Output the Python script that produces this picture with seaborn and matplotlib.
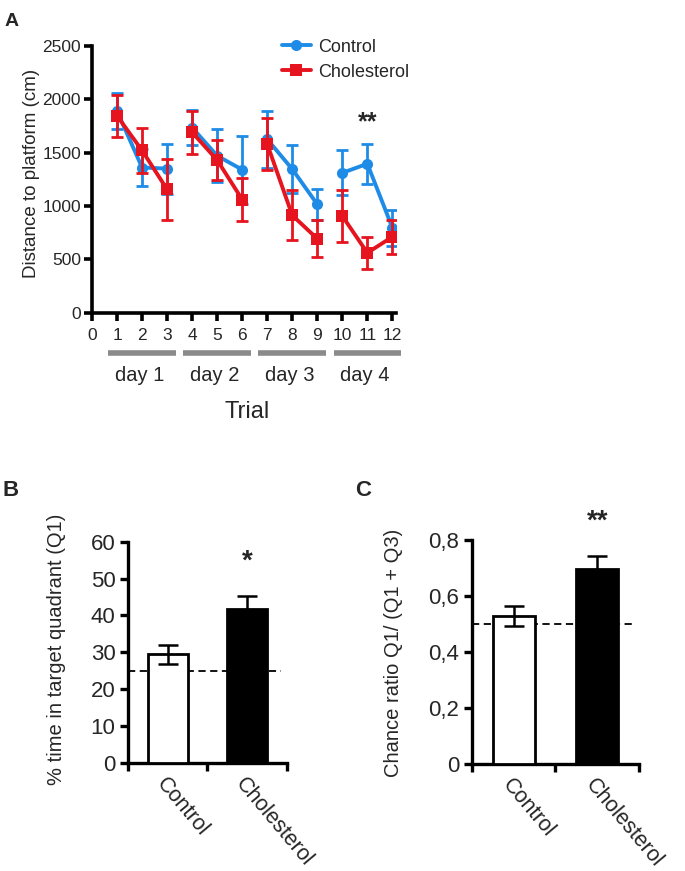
import matplotlib
matplotlib.use("Agg")
import matplotlib.pyplot as plt
from matplotlib.lines import Line2D
from matplotlib.ticker import FixedLocator, FuncFormatter
import pandas as pd
import seaborn as sns

# ---- data ----
trials = [1, 2, 3, 4, 5, 6, 7, 8, 9, 10, 11, 12]
trial_day = [1, 1, 1, 2, 2, 2, 3, 3, 3, 4, 4, 4]
control_dist = [1890, 1360, 1350, 1735, 1470, 1340, 1625, 1345, 1015, 1310, 1395, 795]
control_sem = [165, 175, 235, 165, 250, 320, 265, 228, 148, 210, 185, 170]
chol_dist = [1845, 1520, 1155, 1690, 1430, 1060, 1580, 912, 692, 905, 560, 710]
chol_sem = [195, 215, 285, 200, 188, 203, 247, 235, 172, 245, 150, 162]
day_labels = ["day 1", "day 2", "day 3", "day 4"]
day_first_trial = [1, 4, 7, 10]
day_last_trial = [3, 6, 9, 12]

groups = ["Control", "Cholesterol"]
pct_time = [29.4, 41.6]
pct_time_sem = [2.6, 3.6]
pct_chance = 25
ratio = [0.529, 0.695]
ratio_sem = [0.036, 0.047]
ratio_chance = 0.5

BLUE = "#1E8CE6"
RED = "#E6141E"
FONT = ["Liberation Sans", "DejaVu Sans"]

sns.set_style("ticks")
plt.rcParams["font.family"] = FONT

fig = plt.figure(figsize=(6.85, 8.71), dpi=100)

# ---------------- panel A ----------------
ax = fig.add_axes([0.1343, 0.6412, 0.444, 0.306])
df = pd.DataFrame({
    "trial": trials * 2,
    "day": trial_day * 2,
    "dist": control_dist + chol_dist,
    "group": ["Control"] * 12 + ["Cholesterol"] * 12,
})
sns.lineplot(data=df[df.group == "Control"], x="trial", y="dist", units="day",
             estimator=None, color=BLUE, marker="o", linewidth=2.8, markersize=8,
             markeredgewidth=0, legend=False, ax=ax, zorder=3)
ax.errorbar(trials, control_dist, yerr=control_sem, fmt="none", ecolor=BLUE,
            elinewidth=2, capsize=4.3, capthick=2, zorder=2)
ax.errorbar(trials, chol_dist, yerr=chol_sem, fmt="none", ecolor=RED,
            elinewidth=2, capsize=4.3, capthick=2, zorder=4)
sns.lineplot(data=df[df.group == "Cholesterol"], x="trial", y="dist", units="day",
             estimator=None, color=RED, marker="s", linewidth=2.8, markersize=8,
             markeredgewidth=0, legend=False, ax=ax, zorder=5)

ax.set_xlim(0, 12.15)
ax.set_ylim(0, 2500)
ax.set_xticks(range(0, 13))
ax.set_yticks(range(0, 2501, 500))
for s in ["top", "right"]:
    ax.spines[s].set_visible(False)
for s in ["left", "bottom"]:
    ax.spines[s].set_linewidth(2.6)
    ax.spines[s].set_color("black")
ax.tick_params(width=2.6, length=6, color="black", labelsize=12.5)
ax.tick_params(axis="x", pad=5)
ax.tick_params(axis="y", pad=2)
ax.set_xlabel("")
ax.set_ylabel("Distance to platform (cm)", fontsize=13.5)
ax.yaxis.set_label_coords(-0.172, 0.523)

for first, last, lab in zip(day_first_trial, day_last_trial, day_labels):
    ax.plot([first - 0.35, last + 0.35], [-0.152, -0.152], color="#8a8a8a", lw=4,
            transform=ax.get_xaxis_transform(), clip_on=False, solid_capstyle="butt")
    ax.text((first + last) / 2 - 0.1, -0.235, lab, transform=ax.get_xaxis_transform(),
            ha="center", va="center", fontsize=14.5)
ax.text(0.51, -0.372, "Trial", transform=ax.transAxes, ha="center", va="center",
        fontsize=17)
ax.text(11, 1780, "**", ha="center", va="center", fontsize=18, fontweight="bold")

handles = [Line2D([], [], color=BLUE, lw=2.8, marker="o", ms=8, mew=0),
           Line2D([], [], color=RED, lw=2.8, marker="s", ms=8, mew=0)]
ax.legend(handles, groups, loc="upper left", bbox_to_anchor=(0.6, 1.055),
          frameon=False, handlelength=1.6, handletextpad=0.4, labelspacing=0.45,
          borderaxespad=0, prop={"size": 13})

fig.text(0.006, 0.985, "A", fontsize=14, fontweight="bold", va="top", ha="left")


# ---------------- panels B and C ----------------
def bar_panel(rect, values, sems, chance, ylim, yticks, ylabel, label_coords, star, star_y, fmt):
    axb = fig.add_axes(rect)
    bdf = pd.DataFrame({"group": groups, "value": values})
    sns.barplot(data=bdf, x="group", y="value", hue="group",
                palette={"Control": "white", "Cholesterol": "black"},
                edgecolor="black", linewidth=2, width=0.5, errorbar=None,
                legend=False, ax=axb, zorder=3)
    axb.errorbar([0, 1], values, yerr=sems, fmt="none", ecolor="black",
                 elinewidth=1.8, capsize=7, capthick=1.8, zorder=5)
    axb.axhline(chance, xmin=0, xmax=0.96, color="black", lw=1.3,
                ls=(0, (4, 2.5)), zorder=1)
    axb.set_xlim(-0.5, 1.5)
    axb.set_ylim(*ylim)
    axb.set_yticks(yticks)
    axb.yaxis.set_major_formatter(FuncFormatter(fmt))
    axb.xaxis.set_minor_locator(FixedLocator([-0.5, 0.5, 1.5]))
    axb.tick_params(axis="x", which="major", length=0, pad=8)
    axb.tick_params(axis="x", which="minor", length=6, width=2.4, color="black")
    axb.tick_params(axis="y", length=6, width=2.4, color="black", labelsize=16, pad=3)
    for s in ["top", "right"]:
        axb.spines[s].set_visible(False)
    for s in ["left", "bottom"]:
        axb.spines[s].set_linewidth(2.4)
        axb.spines[s].set_color("black")
    axb.set_xticks([0, 1])
    axb.set_xticklabels(groups, rotation=-50, ha="left", va="top",
                        rotation_mode="anchor", fontsize=15.5)
    axb.set_xlabel("")
    axb.set_ylabel(ylabel, fontsize=14.5)
    axb.yaxis.set_label_coords(*label_coords)
    axb.text(1, star_y, star, ha="center", va="center", fontsize=20, fontweight="bold")
    return axb


bar_panel([0.1869, 0.1243, 0.232, 0.2538], pct_time, pct_time_sem, pct_chance,
          (0, 60), range(0, 61, 10), "% time in target quadrant (Q1)", (-0.39, 0.514),
          "*", 54.5, lambda v, p: f"{v:.0f}")
bar_panel([0.689, 0.1229, 0.2438, 0.257], ratio, ratio_sem, ratio_chance,
          (0, 0.8), [0, 0.2, 0.4, 0.6, 0.8], "Chance ratio Q1/ (Q1 + Q3)", (-0.41, 0.496),
          "**", 0.865, lambda v, p: "0" if v == 0 else f"{v:.1f}".replace(".", ","))

fig.text(0.004, 0.437, "B", fontsize=16, fontweight="bold", va="center", ha="left")
fig.text(0.518, 0.437, "C", fontsize=16, fontweight="bold", va="center", ha="left")

fig.savefig("out.png", dpi=100)
